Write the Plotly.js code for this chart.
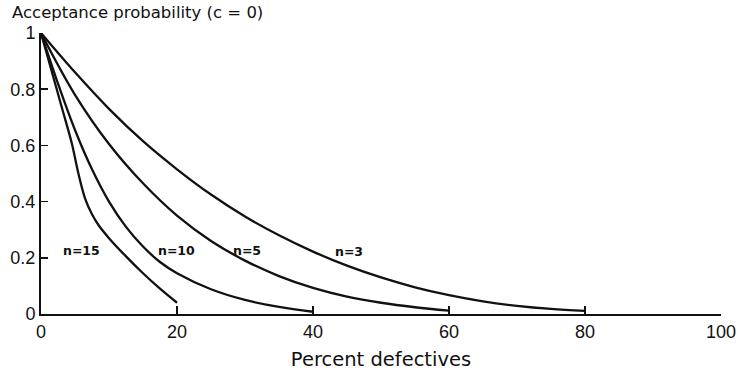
<!DOCTYPE html>
<html>
<head>
<meta charset="utf-8">
<script src="https://cdn.plot.ly/plotly-3.0.1.min.js"></script>
<style>
  html, body { margin: 0; padding: 0; background: #fff; }
  #chart { width: 738px; height: 376px; }
</style>
</head>
<body>
<div id="chart"></div>
<script>
// Percent defectives (x) and acceptance probability (y)
const pctN15 = [0, 1.5, 3, 4.5, 5.5, 6.5, 7.5, 8.5, 10, 12.5, 15, 17.5, 20];
const accN15 = [1.0, 0.87, 0.74, 0.61, 0.5, 0.41, 0.355, 0.315, 0.27, 0.205, 0.145, 0.09, 0.04];

const pctN10 = [0, 2.5, 5, 7.5, 10, 12.5, 15, 17.5, 20, 25, 30, 35, 40];
const accN10 = [1.0, 0.82, 0.655, 0.515, 0.4, 0.31, 0.24, 0.185, 0.145, 0.088, 0.05, 0.025, 0.008];

const pctN5 = [0, 5, 10, 15, 20, 25, 30, 35, 40, 45, 50, 55, 60];
const accN5 = [1.0, 0.78, 0.605, 0.465, 0.35, 0.26, 0.19, 0.135, 0.093, 0.062, 0.04, 0.024, 0.012];

const pctN3 = [0, 5, 10, 15, 20, 25, 30, 35, 40, 45, 50, 55, 60, 65, 70, 75, 80];
const accN3 = [1.0, 0.86, 0.73, 0.615, 0.515, 0.425, 0.347, 0.28, 0.222, 0.172, 0.13, 0.095, 0.067, 0.045, 0.029, 0.018, 0.011];

const curveNames = ["n=15", "n=10", "n=5", "n=3"];
const labelX = [6.0, 19.9, 30.3, 45.3];
const labelY = [0.225, 0.225, 0.225, 0.222];

const xTickVals = [0, 20, 40, 60, 80, 100];
const xTickText = ["0", "20", "40", "60", "80", "100"];
const yTickVals = [0, 0.2, 0.4, 0.6, 0.8, 1];
const yTickText = ["0", "0.2", "0.4", "0.6", "0.8", "1"];

const titleText = "Acceptance probability (c = 0)";
const xTitleText = "Percent defectives";

const xs = [pctN15, pctN10, pctN5, pctN3];
const ys = [accN15, accN10, accN5, accN3];

const traces = xs.map((x, i) => ({
  type: "scatter",
  mode: "lines",
  x: x,
  y: ys[i],
  name: curveNames[i],
  line: { color: "#111", width: 2.3, shape: "spline", smoothing: 1.0 },
  hoverinfo: "skip",
  showlegend: false
}));

const annotations = curveNames.map((t, i) => ({
  x: labelX[i],
  y: labelY[i],
  xref: "x",
  yref: "y",
  text: t,
  showarrow: false,
  xanchor: "center",
  yanchor: "middle",
  font: { family: "DejaVu Sans", size: 12.5, color: "#111", weight: "bold" }
}));

const layout = {
  width: 738,
  height: 376,
  margin: { l: 41, r: 17, t: 33, b: 62 },
  paper_bgcolor: "#fff",
  plot_bgcolor: "#fff",
  showlegend: false,
  title: {
    text: titleText,
    font: { family: "DejaVu Sans", size: 16.5, color: "#111" },
    xref: "container",
    yref: "container",
    x: 12 / 738,
    xanchor: "left",
    y: 1 - 12 / 376,
    yanchor: "middle"
  },
  xaxis: {
    range: [0, 100],
    tickvals: xTickVals,
    ticktext: xTickText,
    ticks: "inside",
    ticklen: 8,
    tickwidth: 1.5,
    tickcolor: "#111",
    showline: true,
    linecolor: "#111",
    linewidth: 2,
    showgrid: false,
    zeroline: false,
    tickfont: { family: "Liberation Sans", size: 18, color: "#111" },
    title: {
      text: xTitleText,
      font: { family: "DejaVu Sans", size: 19.5, color: "#111" },
      standoff: 12
    }
  },
  yaxis: {
    range: [0, 1],
    tickvals: yTickVals,
    ticktext: yTickText,
    ticks: "inside",
    ticklen: 7,
    tickwidth: 1.5,
    tickcolor: "#111",
    showline: true,
    linecolor: "#111",
    linewidth: 2,
    showgrid: false,
    zeroline: false,
    tickfont: { family: "Liberation Sans", size: 18, color: "#111" }
  },
  annotations: annotations
};

Plotly.newPlot("chart", traces, layout, { staticPlot: true, displayModeBar: false });
</script>
</body>
</html>
